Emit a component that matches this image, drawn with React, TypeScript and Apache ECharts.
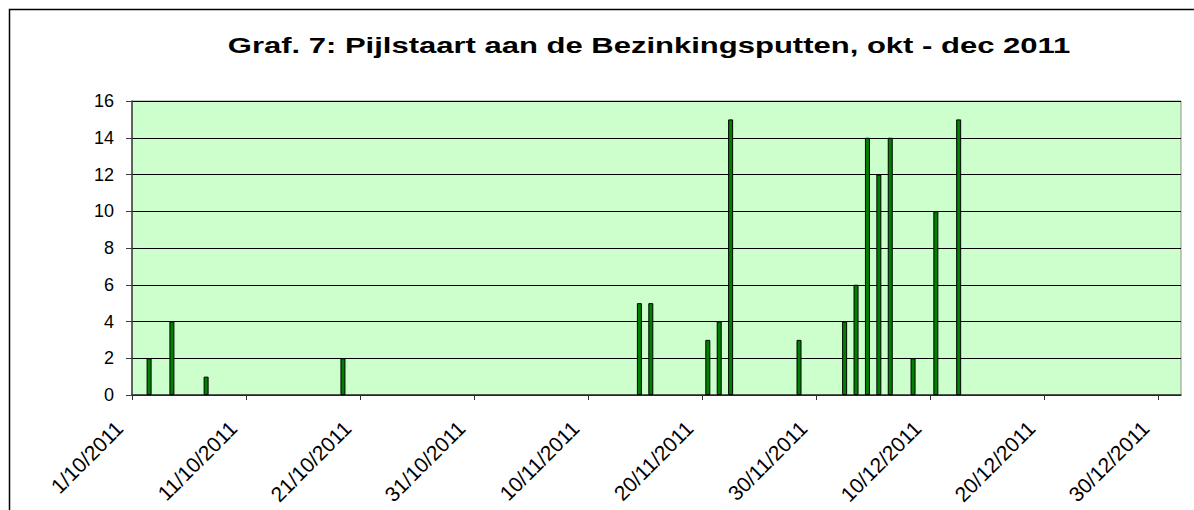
import React, { useEffect, useRef } from "react";
import * as echarts from "echarts";

const TITLE = "Graf. 7: Pijlstaart aan de Bezinkingsputten, okt - dec 2011";
const START_DATE = "2011-10-01";
const DAYS_ON_AXIS = 92; // 1/10/2011 .. 31/12/2011
const tickDays = [0, 10, 20, 30, 40, 50, 60, 70, 80, 90];
const tickLabels = [
  "1/10/2011", "11/10/2011", "21/10/2011", "31/10/2011", "10/11/2011",
  "20/11/2011", "30/11/2011", "10/12/2011", "20/12/2011", "30/12/2011",
];
const dates = [
  "2011-10-02", "2011-10-04", "2011-10-07", "2011-10-19",
  "2011-11-14", "2011-11-15", "2011-11-20", "2011-11-21", "2011-11-22",
  "2011-11-28", "2011-12-02", "2011-12-03", "2011-12-04", "2011-12-05",
  "2011-12-06", "2011-12-08", "2011-12-10", "2011-12-12",
];
const counts = [2, 4, 1, 2, 5, 5, 3, 4, 15, 3, 4, 6, 14, 12, 14, 2, 10, 15];
const yTicks = [0, 2, 4, 6, 8, 10, 12, 14, 16];

const dayIndex = (d: string) =>
  Math.round((Date.parse(d + "T00:00:00Z") - Date.parse(START_DATE + "T00:00:00Z")) / 86400000);

export default function App() {
  const ref = useRef<HTMLDivElement>(null);
  useEffect(() => {
    if (!ref.current) return;
    const chart = echarts.init(ref.current, undefined, { renderer: "svg" });
    const font = "'Liberation Sans', Arial, sans-serif";
    chart.setOption({
      animation: false,
      backgroundColor: "#ffffff",
      graphic: [
        {
          type: "polyline",
          shape: { points: [[9.5, 520], [9.5, 9.5], [1200, 9.5]] },
          style: { stroke: "#000", lineWidth: 1.5, fill: "none" },
          silent: true,
        },
        {
          type: "text",
          x: 649,
          y: 46,
          scaleX: 1.41,
          silent: true,
          style: {
            text: TITLE,
            x: 0,
            y: 0,
            textAlign: "center",
            textVerticalAlign: "middle",
            fontFamily: font,
            fontSize: 22,
            fontWeight: "bold",
            fill: "#000",
          },
        },
      ],
      grid: {
        left: 132,
        top: 101,
        width: 1049,
        height: 294,
        show: true,
        backgroundColor: "#ccffcc",
        borderColor: "#909090",
        borderWidth: 1,
      },
      xAxis: {
        type: "value",
        min: 0,
        max: DAYS_ON_AXIS,
        interval: 10,
        splitLine: { show: false },
        axisLine: { show: true, onZero: false, lineStyle: { color: "#303030", width: 1.5 } },
        axisTick: {
          show: true,
          length: 5,
          customValues: tickDays,
          lineStyle: { color: "#303030" },
        },
        axisLabel: {
          customValues: tickDays,
          rotate: 45,
          margin: 17,
          padding: [0, 18, 0, 0],
          fontFamily: font,
          fontSize: 21,
          color: "#000",
          formatter: (v: number) => {
            const i = tickDays.indexOf(Math.round(v));
            return i >= 0 ? tickLabels[i] : "";
          },
        },
      },
      yAxis: {
        type: "value",
        min: 0,
        max: 16,
        interval: 2,
        axisLine: { show: true, lineStyle: { color: "#404040", width: 1.5 } },
        axisTick: { show: true, length: 6, lineStyle: { color: "#404040" } },
        splitLine: { show: true, lineStyle: { color: "#000", width: 1 } },
        axisLabel: {
          margin: 18,
          fontFamily: font,
          fontSize: 18,
          color: "#000",
          formatter: (v: number) => (yTicks.includes(v) ? String(v) : ""),
        },
      },
      series: [
        {
          type: "bar",
          barWidth: 5,
          data: dates.map((d, i) => [dayIndex(d) + 0.5, counts[i]]),
          itemStyle: { color: "#008000", borderColor: "#000", borderWidth: 1 },
        },
      ],
    });
    return () => chart.dispose();
  }, []);
  return (
    <div
      ref={ref}
      style={{ position: "fixed", left: 0, top: 0, width: 1194, height: 510 }}
    />
  );
}
